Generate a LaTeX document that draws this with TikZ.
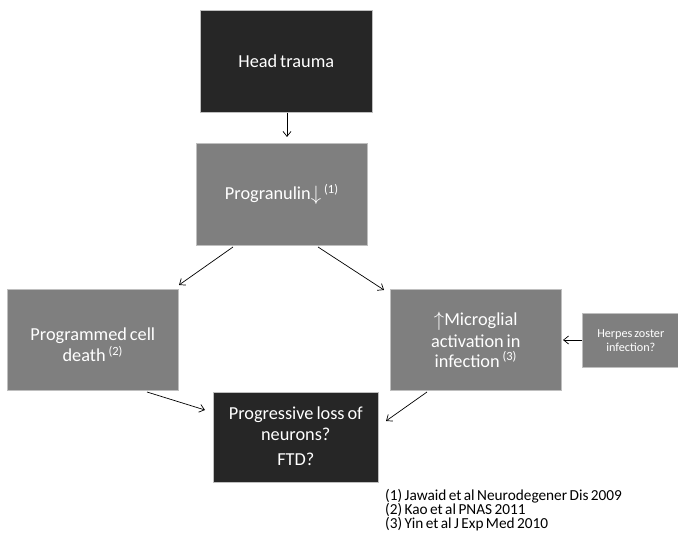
\documentclass[tikz,border=0pt]{standalone}
\usepackage{fontspec}
\setmainfont[WordSpace=0.7]{Carlito}
\usetikzlibrary{arrows.meta}
\definecolor{darkbox}{HTML}{262626}
\definecolor{graybox}{HTML}{7F7F7F}
\definecolor{edgegray}{HTML}{BFBFBF}
\tikzset{
  box/.style={draw=edgegray, line width=0.6pt, text=white, align=flush center, inner sep=0pt, anchor=north west},
  darkb/.style={box, fill=darkbox},
  grayb/.style={box, fill=graybox},
  bigtext/.style={font=\fontsize{18.3}{21}\selectfont},
  intext/.style={text=white, align=flush center, inner sep=0pt},
  conn/.style={draw=black, line width=0.7pt, -{Straight Barb[length=5pt,width=8pt]}}
}
\newcommand{\refsup}[1]{\textsuperscript{\fontsize{12.5}{12.5}\selectfont(#1)}}
\newcommand{\dnarrow}{\raisebox{-1pt}{\fontsize{22}{22}\selectfont$\downarrow$}}
\newcommand{\uparr}{\raisebox{-1pt}{\fontsize{22}{22}\selectfont$\uparrow$}}
\begin{document}
\begin{tikzpicture}[x=1pt,y=-1pt]
\useasboundingbox (0,0) rectangle (678,534);
\node[darkb, bigtext, minimum width=172pt, minimum height=102pt] (head) at (200,10) {Head trauma};
\node[grayb, bigtext, minimum width=171pt, minimum height=102pt] (prog) at (196,143) {Progranulin\dnarrow\,\refsup{1}};
\node[grayb, minimum width=171pt, minimum height=101pt] (pcd) at (7,289) {};
\node[intext, bigtext] (pcdtext) at ([yshift=-5pt]pcd.center) {Programmed cell\\death \refsup{2}};
\node[grayb, bigtext, minimum width=171pt, minimum height=101pt] (micro) at (390,289) {\uparr Microglial\\[0.5pt]activation in\\[-1pt]infection \refsup{3}};
\node[grayb, font=\fontsize{12.2}{14}\selectfont, minimum width=97pt, minimum height=54pt] (herpes) at (582,313) {Herpes zoster\\infection?};
\node[darkb, minimum width=165pt, minimum height=90pt] (loss) at (213,392) {};
\node[intext, bigtext] (losstext) at ([yshift=1pt]loss.center) {Progressive loss of\\[0pt]neurons?\\[4pt]FTD?};
\node[anchor=north west, align=left, inner sep=0pt, font=\fontsize{15.3}{14}\selectfont] (refs) at (385,489) {(1) Jawaid et al Neurodegener Dis 2009\\(2) Kao et al PNAS 2011\\(3) Yin et al J Exp Med 2010};
\coordinate (a1) at (287,112);
\coordinate (a2) at (287,137);
\draw[conn] (head.south -| a1) -- (a2);
\coordinate (b1) at (233,247);
\coordinate (b2) at (179,285);
\draw[conn] (b1) -- (b2);
\coordinate (c1) at (318,247);
\coordinate (c2) at (384,290);
\draw[conn] (c1) -- (c2);
\coordinate (d1) at (147,392);
\coordinate (d2) at (205,410);
\draw[conn] (d1) -- (d2);
\coordinate (e1) at (427,392);
\coordinate (e2) at (386,421);
\draw[conn] (e1) -- (e2);
\coordinate (f2) at (563,340);
\draw[conn] (herpes.west |- f2) -- (f2);
\end{tikzpicture}
\end{document}
